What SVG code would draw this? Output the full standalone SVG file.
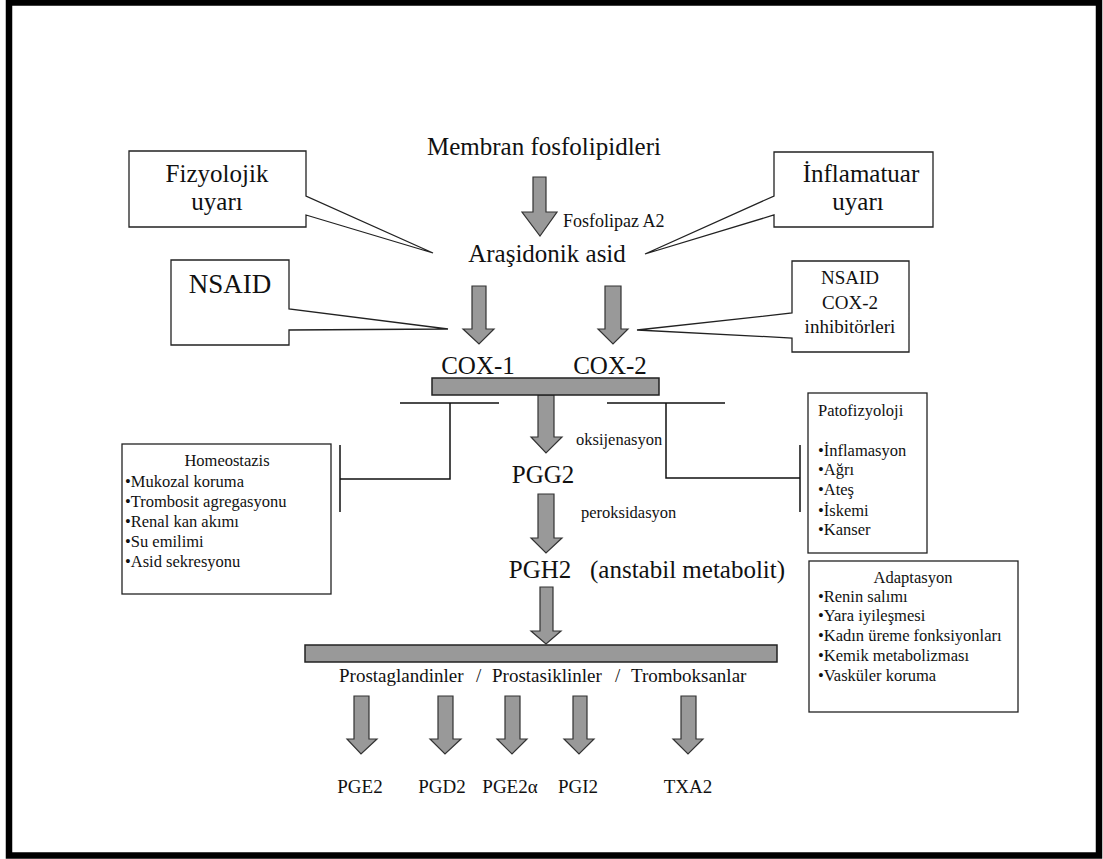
<svg xmlns="http://www.w3.org/2000/svg" width="1103" height="859" viewBox="0 0 1103 859">
<style>
.t{font-family:'Liberation Serif','DejaVu Serif',serif;fill:#111}
.big{font-size:25px}
.mid{font-size:19px}
.sm{font-size:16.5px}
.box{fill:#fff;stroke:#222;stroke-width:1.3}
.arr{fill:#999;stroke:#333;stroke-width:1.2;stroke-linejoin:miter}
.bar{fill:#999;stroke:#222;stroke-width:1.5}
.ln{fill:none;stroke:#111;stroke-width:1.5}
</style>
<rect x="0" y="0" width="1103" height="859" fill="#fff"/>
<rect x="9" y="2.5" width="1090" height="853" fill="none" stroke="#000" stroke-width="6.5"/>

<g id="connectors">
  <path class="arr" d="M533,177 H546 V212 H557 L540,236 L522,212 H533 Z"/>
  <path class="arr" d="M472,286 H486 V329 H494 L479,344 L463,329 H472 Z"/>
  <path class="arr" d="M605,286 H621 V329 H628 L613,344 L598,329 H605 Z"/>
  <path class="arr" d="M538,395 H554 V437 H562 L546,453 L531,437 H538 Z"/>
  <path class="arr" d="M538,494 H554 V538 H562 L546,553 L531,538 H538 Z"/>
  <path class="arr" d="M540,587 H553 V631 H561 L546,644 L531,631 H540 Z"/>
  <path class="arr" d="M354,696 H369 V739 H377 L361,754 L347,739 H354 Z"/>
  <path class="arr" d="M438,696 H453 V739 H461 L445,754 L430,739 H438 Z"/>
  <path class="arr" d="M505,696 H520 V739 H527 L512,754 L497,739 H505 Z"/>
  <path class="arr" d="M573,696 H587 V739 H594 L579,754 L564,739 H573 Z"/>
  <path class="arr" d="M681,696 H696 V739 H703 L688,754 L673,739 H681 Z"/>
  <path class="ln" d="M400,403 H499 M450,403 V479 H340 M340,445 V512"/>
  <path class="ln" d="M607,403 H725 M666,403 V478 H800 M800,445 V512"/>
</g>

<g id="membran"><text class="t big" x="544" y="155" text-anchor="middle">Membran fosfolipidleri</text></g>
<g id="fosfolipaz"><text class="t" font-size="18" x="563" y="227">Fosfolipaz A2</text></g>
<g id="arasidonik"><text class="t big" x="547" y="262" text-anchor="middle">Araşidonik asid</text></g>

<g id="fizyolojik">
  <path class="box" d="M129,151 H306 V196 L433,253 L306,215 V227 H129 Z"/>
  <text class="t big" x="217" y="182" text-anchor="middle">Fizyolojik</text>
  <text class="t big" x="217" y="210" text-anchor="middle">uyarı</text>
</g>
<g id="inflamatuar">
  <path class="box" d="M774,152 H933 V227 H774 V215 L645,254 L774,196 Z"/>
  <text class="t big" x="861" y="182" text-anchor="middle">İnflamatuar</text>
  <text class="t big" x="858" y="210" text-anchor="middle">uyarı</text>
</g>
<g id="nsaid">
  <path class="box" d="M171,260 H289 V309 L448,329 L289,330 V345 H171 Z"/>
  <text class="t" font-size="27" x="230" y="293" text-anchor="middle">NSAID</text>
</g>
<g id="nsaid-cox2">
  <path class="box" d="M792,261 H909 V352 H792 V338 L637,330 L792,313 Z"/>
  <text class="t mid" x="850" y="284" text-anchor="middle">NSAID</text>
  <text class="t mid" x="850" y="309" text-anchor="middle">COX-2</text>
  <text class="t mid" x="850" y="333" text-anchor="middle">inhibitörleri</text>
</g>

<g id="cox1"><text class="t big" x="478" y="374" text-anchor="middle">COX-1</text></g>
<g id="cox2"><text class="t big" x="610" y="374" text-anchor="middle">COX-2</text></g>
<g id="cox-bar"><rect class="bar" x="432" y="378" width="227" height="17"/></g>

<g id="oksijenasyon"><text class="t sm" x="576" y="445">oksijenasyon</text></g>
<g id="pgg2"><text class="t big" x="543" y="483" text-anchor="middle">PGG2</text></g>
<g id="peroksidasyon"><text class="t sm" x="581" y="518">peroksidasyon</text></g>
<g id="pgh2">
  <text class="t big" x="540" y="578" text-anchor="middle">PGH2</text>
  <text class="t big" x="590" y="578">(anstabil metabolit)</text>
</g>

<g id="homeostazis">
  <rect class="box" x="122" y="444" width="209" height="150"/>
  <text class="t sm" x="227" y="466" text-anchor="middle">Homeostazis</text>
  <text class="t sm" x="125" y="487">•Mukozal koruma</text>
  <text class="t sm" x="125" y="507">•Trombosit agregasyonu</text>
  <text class="t sm" x="125" y="527">•Renal kan akımı</text>
  <text class="t sm" x="125" y="547">•Su emilimi</text>
  <text class="t sm" x="125" y="567">•Asid sekresyonu</text>
</g>

<g id="patofizyoloji">
  <rect class="box" x="808" y="393" width="119" height="160"/>
  <text class="t sm" x="818" y="416">Patofizyoloji</text>
  <text class="t sm" x="818" y="456">•İnflamasyon</text>
  <text class="t sm" x="818" y="475">•Ağrı</text>
  <text class="t sm" x="818" y="495">•Ateş</text>
  <text class="t sm" x="818" y="516">•İskemi</text>
  <text class="t sm" x="818" y="535">•Kanser</text>
</g>

<g id="adaptasyon">
  <rect class="box" x="809" y="561" width="209" height="151"/>
  <text class="t sm" x="913" y="583" text-anchor="middle">Adaptasyon</text>
  <text class="t sm" x="818" y="602">•Renin salımı</text>
  <text class="t sm" x="818" y="621">•Yara iyileşmesi</text>
  <text class="t sm" x="818" y="641">•Kadın üreme fonksiyonları</text>
  <text class="t sm" x="818" y="661">•Kemik metabolizması</text>
  <text class="t sm" x="818" y="681">•Vasküler koruma</text>
</g>

<g id="prostanoid-bar">
  <rect class="bar" x="305" y="645" width="472" height="17"/>
  <text class="t mid" y="682"><tspan x="339">Prostaglandinler</tspan><tspan x="476">/</tspan><tspan x="492">Prostasiklinler</tspan><tspan x="615">/</tspan><tspan x="631">Tromboksanlar</tspan></text>
</g>

<g id="pge2"><text class="t mid" x="360" y="793" text-anchor="middle">PGE2</text></g>
<g id="pgd2"><text class="t mid" x="442" y="793" text-anchor="middle">PGD2</text></g>
<g id="pge2a"><text class="t mid" x="510" y="793" text-anchor="middle">PGE2α</text></g>
<g id="pgi2"><text class="t mid" x="578" y="793" text-anchor="middle">PGI2</text></g>
<g id="txa2"><text class="t mid" x="688" y="793" text-anchor="middle">TXA2</text></g>
</svg>
